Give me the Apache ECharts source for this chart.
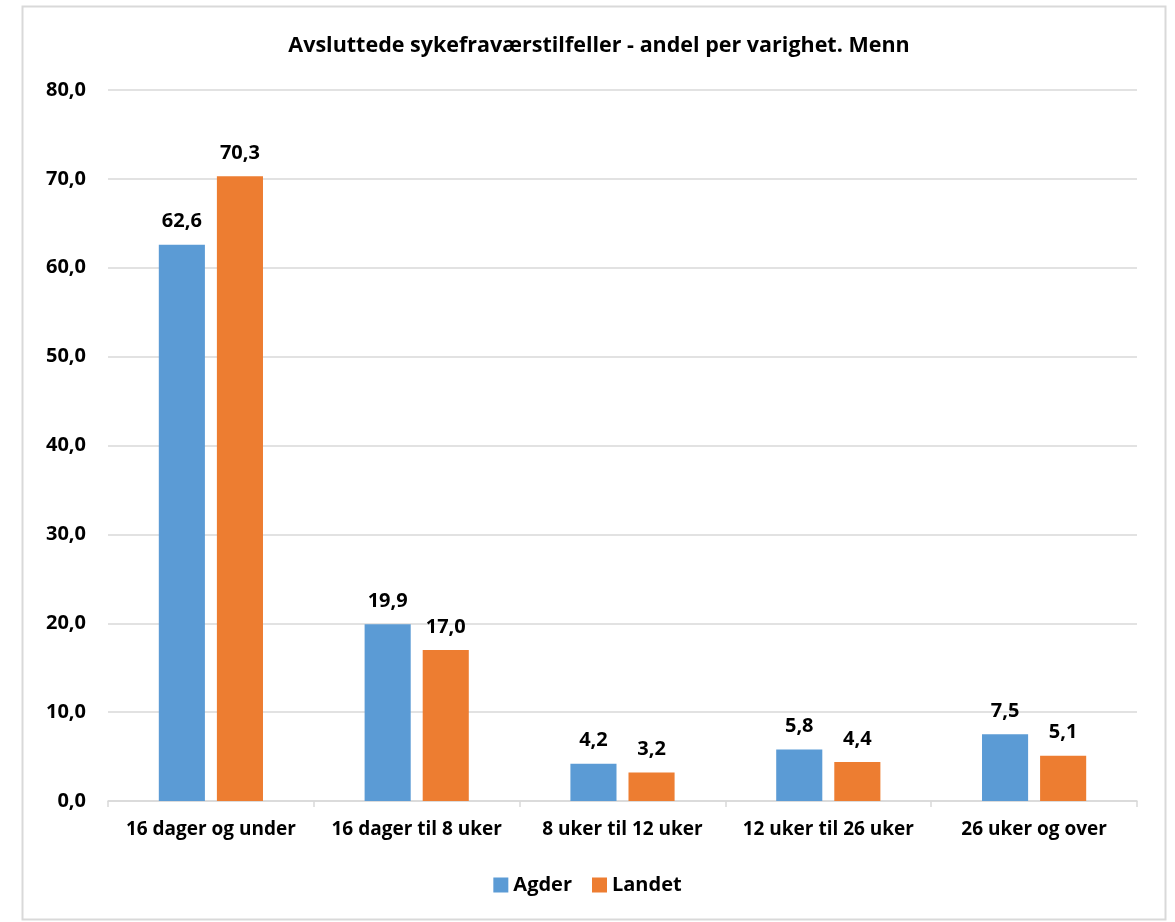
<!DOCTYPE html>
<html>
<head>
<meta charset="utf-8">
<script src="https://cdn.jsdelivr.net/npm/echarts@6/dist/echarts.min.js"></script>
<style>
    html, body { margin: 0; padding: 0; background: #fff; }
    #chart { width: 1175px; height: 922px; }
</style>
</head>
<body>
<div id="chart"></div>
<script>
    // data
    var categories = ['16 dager og under', '16 dager til 8 uker', '8 uker til 12 uker', '12 uker til 26 uker', '26 uker og over'];
    var agder = [62.6, 19.9, 4.2, 5.8, 7.5];
    var landet = [70.3, 17.0, 3.2, 4.4, 5.1];

    var font = '"Open Sans", "Liberation Sans", sans-serif';
    var fmt = function (v) { return Number(v).toFixed(1).replace('.', ','); };

    var chart = echarts.init(document.getElementById('chart'));
    chart.setOption({
        animation: false,
        textStyle: { fontFamily: font },
        graphic: [{
            type: 'rect',
            shape: { x: 22.5, y: 6.5, width: 1143, height: 913 },
            style: { fill: 'none', stroke: '#d9d9d9', lineWidth: 2 },
            silent: true
        }],
        title: {
            text: 'Avsluttede sykefraværstilfeller - andel per varighet. Menn',
            left: 594,
            textAlign: 'center',
            top: 30,
            textStyle: { fontSize: 21.5, fontWeight: 'bold', color: '#000', fontFamily: font }
        },
        legend: {
            data: ['Agder', 'Landet'],
            bottom: 22,
            left: 'center',
            itemWidth: 15,
            itemHeight: 15,
            itemGap: 20,
            textStyle: { fontSize: 20, fontWeight: 'bold', color: '#000', fontFamily: font },
            icon: 'rect'
        },
        grid: { left: 108, right: 38, top: 90, bottom: 121, containLabel: false },
        xAxis: {
            type: 'category',
            data: categories,
            axisLine: { lineStyle: { color: '#d9d9d9', width: 1.5 } },
            axisTick: { show: true, length: 6, lineStyle: { color: '#d9d9d9', width: 1.5 } },
            axisLabel: { fontSize: 19, fontWeight: 'bold', color: '#000', margin: 19, interval: 0 }
        },
        yAxis: {
            type: 'value',
            min: 0,
            max: 80,
            interval: 10,
            axisLine: { show: false },
            axisTick: { show: false },
            splitLine: { lineStyle: { color: '#d9d9d9', width: 1.5 } },
            axisLabel: { fontSize: 20, fontWeight: 'bold', color: '#000', margin: 22, formatter: fmt }
        },
        series: [{
            name: 'Agder',
            type: 'bar',
            data: agder,
            barWidth: '22.4%',
            barGap: '26%',
            itemStyle: { color: '#5b9bd5' },
            label: { show: true, position: 'top', distance: 13, fontSize: 20, fontWeight: 'bold', color: '#000', formatter: function (p) { return fmt(p.value); } }
        }, {
            name: 'Landet',
            type: 'bar',
            data: landet,
            barWidth: '22.4%',
            itemStyle: { color: '#ed7d31' },
            label: { show: true, position: 'top', distance: 13, fontSize: 20, fontWeight: 'bold', color: '#000', formatter: function (p) { return fmt(p.value); } }
        }]
    });
</script>
</body>
</html>
